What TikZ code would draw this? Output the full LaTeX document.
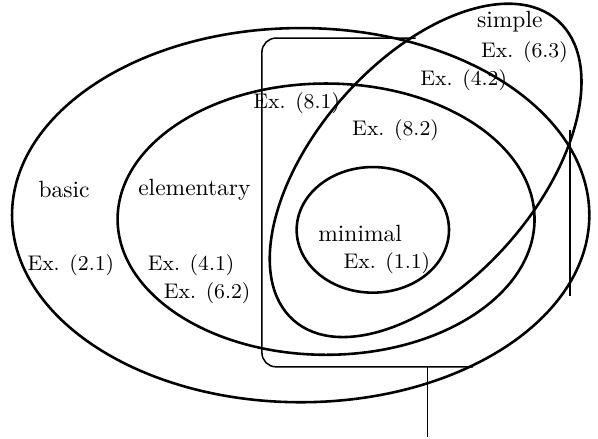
\documentclass[tikz,border=0pt]{standalone}
\usepackage{amsmath}
\usetikzlibrary{positioning}
\tikzset{
  region/.style={draw=black,line width=1.1pt},
  frame/.style={draw=black,line width=0.65pt,rounded corners=6pt},
  stem/.style={draw=black,line width=0.45pt},
  setname/.style={font=\normalsize,inner sep=1pt},
  example/.style={font=\small,inner sep=1pt},
}
\begin{document}
\begin{tikzpicture}[x=1cm,y=1cm]

\useasboundingbox (0,0) rectangle (8.95,6.57);

% the four classes
\draw[region] (4.50,3.35) ellipse [x radius=4.32,y radius=2.80];
\draw[region] (4.88,3.29) ellipse [x radius=3.12,y radius=2.03];
\draw[region] (5.58,3.13) ellipse [x radius=1.14,y radius=0.94];
\draw[region,rotate around={48.6:(6.37,4.02)}] (6.37,4.02) ellipse [x radius=2.99,y radius=1.65];

% partial frame
\coordinate (topend) at (6.22,6.00);
\coordinate (botend) at (7.08,1.08);
\coordinate (foot)   at (6.40,1.08);
\coordinate (base)   at (6.40,0.03);
\coordinate (rtop)   at (8.53,4.62);
\coordinate (rbot)   at (8.53,2.14);
\draw[frame] (topend) -- (3.92,6.00) -- (3.92,1.08) -- (botend);
\draw[stem] (foot) -- (base);
\draw[frame] (rtop) -- (rbot);

% class names
\node[setname] (simple)     at (7.63,6.24) {simple};
\node[setname] (basic)      at (0.96,3.73) {basic};
\node[setname] (elementary) at (2.91,3.73) {elementary};
\node[setname] (minimal)    at (5.39,3.08) {minimal};

% examples
\node[example] (ex63) at (7.85,5.79) {Ex. (6.3)};
\node[example] (ex42) at (6.94,5.37) {Ex. (4.2)};
\node[example] (ex81) at (4.44,5.03) {Ex. (8.1)};
\node[example] (ex82) at (5.92,4.62) {Ex. (8.2)};
\node[example] (ex21) at (1.06,2.60) {Ex. (2.1)};
\node[example] (ex41) at (2.86,2.60) {Ex. (4.1)};
\node[example] (ex62) at (3.10,2.18) {Ex. (6.2)};
\node[example] (ex11) at (5.79,2.63) {Ex. (1.1)};

\end{tikzpicture}
\end{document}
